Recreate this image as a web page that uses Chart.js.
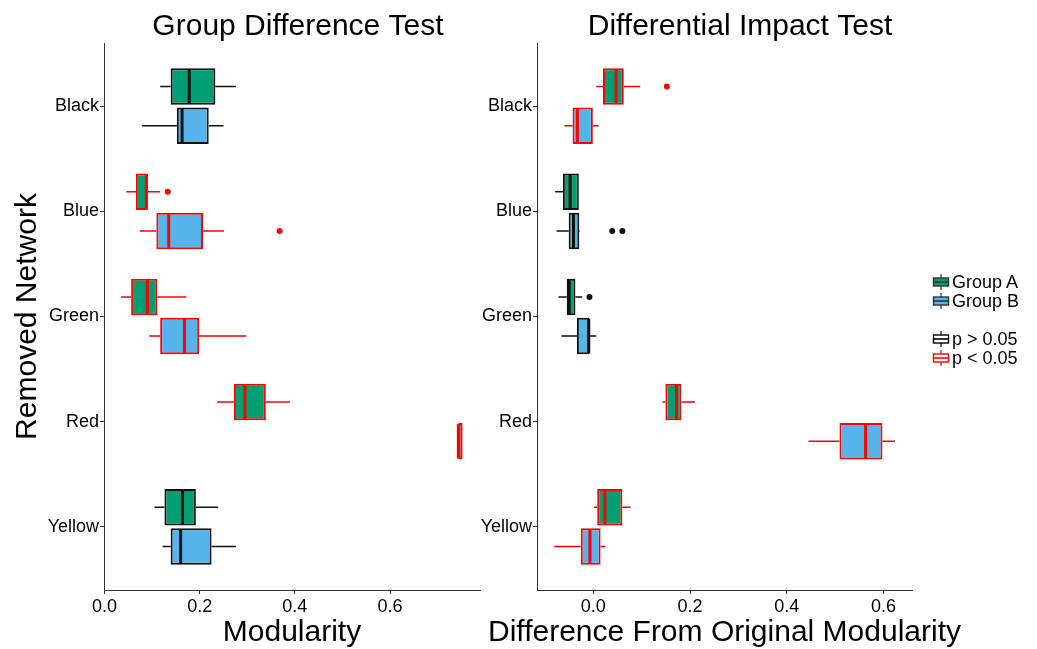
<!DOCTYPE html>
<html><head><meta charset="utf-8">
<script src="https://cdn.jsdelivr.net/npm/chart.js@4.4.1/dist/chart.umd.min.js"></script>
<style>
html,body{margin:0;padding:0;background:#fff;}
#wrap{position:relative;width:1037px;height:649px;overflow:hidden;background:#fff;font-family:"Liberation Sans",Arial,sans-serif;}
canvas{position:absolute;top:0;}
#c1{left:0;}
#c2{left:468px;}
#legend{position:absolute;left:932px;top:0;width:105px;height:649px;}
.row{position:absolute;left:0;height:20px;display:flex;align-items:center;font-size:18px;white-space:nowrap;color:#000;}
.row svg{margin-right:2px;flex:none;}
</style></head><body>
<div id="wrap">
<canvas id="c1" width="596" height="649"></canvas>
<canvas id="c2" width="544" height="649"></canvas>
<div id="legend"></div>
</div>
<script>
// ---------------- data ----------------
const categories = ['Black', 'Blue', 'Green', 'Red', 'Yellow'];
const groupNames = ['Group A', 'Group B'];
const sigNames = ['p > 0.05', 'p < 0.05'];

// Group Difference Test (Modularity)
const gdA_lo  = [0.117, 0.046, 0.035, 0.237, 0.105];
const gdA_q1  = [0.139, 0.066, 0.056, 0.272, 0.126];
const gdA_med = [0.178, 0.088, 0.090, 0.295, 0.164];
const gdA_q3  = [0.233, 0.091, 0.111, 0.339, 0.192];
const gdA_hi  = [0.276, 0.117, 0.172, 0.390, 0.239];
const gdA_out = [[], [0.133], [], [], []];
const gdB_lo  = [0.079, 0.074, 0.094, 0.742, 0.122];
const gdB_q1  = [0.152, 0.109, 0.117, 0.7435, 0.139];
const gdB_med = [0.163, 0.135, 0.168, 0.7435, 0.160];
const gdB_q3  = [0.219, 0.207, 0.199, 0.7525, 0.225];
const gdB_hi  = [0.250, 0.251, 0.298, 0.7525, 0.276];
const gdB_out = [[], [0.368], [], [], []];
const gd_sig  = [false, true, true, true, false];

// Differential Impact Test (Difference From Original Modularity)
const diA_lo  = [0.006, -0.079, -0.072, 0.143, 0.001];
const diA_q1  = [0.020, -0.063, -0.055, 0.149, 0.008];
const diA_med = [0.047, -0.048, -0.050, 0.172, 0.024];
const diA_q3  = [0.063, -0.030, -0.037, 0.182, 0.060];
const diA_hi  = [0.097, -0.030, -0.023, 0.210, 0.077];
const diA_out = [[0.152], [], [-0.008], [], []];
const diB_lo  = [-0.060, -0.076, -0.066, 0.445, -0.081];
const diB_q1  = [-0.043, -0.051, -0.034, 0.509, -0.026];
const diB_med = [-0.033, -0.041, -0.0095, 0.563, -0.007];
const diB_q3  = [-0.001, -0.029, -0.008, 0.598, 0.015];
const diB_hi  = [0.011, -0.028, 0.006, 0.624, 0.025];
const diB_out = [[], [0.039, 0.060], [], [], []];
const di_sig  = [true, false, false, true, true];

const xTickValues = [0, 0.2, 0.4, 0.6];
const xTickLabels = ['0.0', '0.2', '0.4', '0.6'];

// ---------------- styles ----------------
const FONT = '"Liberation Sans", Arial, sans-serif';
const GREEN = '#009E73', BLUE = '#56B4E9', RED = '#FF0000', DARK = '#111111', AXIS = '#333333';

Chart.defaults.font.family = FONT;
Chart.defaults.color = '#000';

function boxDataset(label, color, q1, q3, lo, hi, med, out, sig) {
  return {
    label, xAxisID: 'x', yAxisID: 'y',
    data: q1.map((v, i) => [v, q3[i]]),
    backgroundColor: color,
    borderColor: sig.map(s => s ? RED : DARK),
    borderWidth: 2,
    borderSkipped: false,
    categoryPercentage: 0.746,
    barPercentage: 0.93,
    whiskerLo: lo, whiskerHi: hi, medians: med, outliers: out, sig
  };
}

const boxParts = {
  id: 'boxParts',
  beforeDatasetsDraw(chart) {
    const ctx = chart.ctx, xs = chart.scales.x;
    chart.data.datasets.forEach((ds, di) => {
      const meta = chart.getDatasetMeta(di);
      meta.data.forEach((el, i) => {
        const y = el.y;
        const col = ds.sig[i] ? RED : DARK;
        ctx.save();
        ctx.strokeStyle = col; ctx.lineWidth = 1.5;
        ctx.beginPath();
        ctx.moveTo(xs.getPixelForValue(ds.whiskerLo[i]), y);
        ctx.lineTo(xs.getPixelForValue(ds.data[i][0]), y);
        ctx.moveTo(xs.getPixelForValue(ds.data[i][1]), y);
        ctx.lineTo(xs.getPixelForValue(ds.whiskerHi[i]), y);
        ctx.stroke();
        ctx.restore();
      });
    });
  },
  afterDatasetsDraw(chart) {
    const ctx = chart.ctx, xs = chart.scales.x;
    chart.data.datasets.forEach((ds, di) => {
      const meta = chart.getDatasetMeta(di);
      meta.data.forEach((el, i) => {
        const y = el.y, h = el.height;
        const col = ds.sig[i] ? RED : DARK;
        ctx.save();
        ctx.strokeStyle = col; ctx.lineWidth = 3;
        const mx = xs.getPixelForValue(ds.medians[i]);
        ctx.beginPath();
        ctx.moveTo(mx, y - h / 2 + 1);
        ctx.lineTo(mx, y + h / 2 - 1);
        ctx.stroke();
        ctx.fillStyle = col;
        ds.outliers[i].forEach(v => {
          ctx.beginPath();
          ctx.arc(xs.getPixelForValue(v), y, 3, 0, Math.PI * 2);
          ctx.fill();
        });
        ctx.restore();
      });
    });
  }
};

const xTitle = {
  id: 'xTitle',
  afterDraw(chart, args, opts) {
    const {ctx, chartArea} = chart;
    ctx.save();
    ctx.font = opts.size + 'px ' + FONT;
    ctx.fillStyle = '#000';
    ctx.textAlign = 'center';
    ctx.textBaseline = 'middle';
    ctx.fillText(opts.text, (chartArea.left + chartArea.right) / 2, opts.y);
    ctx.restore();
  }
};

function makeChart(canvasId, cfg) {
  const yScale = {
    type: 'category', labels: categories, offset: true, position: 'left',
    afterBuildTicks: a => { a._startValue = -0.6; a._valueRange = categories.length + 0.2; },
    afterFit: a => { a.width = cfg.yWidth; },
    grid: {display: true, drawOnChartArea: false, offset: false, tickLength: 4, color: AXIS, lineWidth: 1},
    border: {display: true, color: AXIS, width: 1},
    ticks: {font: {size: 18, family: FONT}, color: '#000', padding: 1},
    title: cfg.yTitle ? {display: true, text: cfg.yTitle, font: {size: 30, family: FONT}, color: '#000', padding: {top: 10, bottom: 0}} : {display: false}
  };
  return new Chart(document.getElementById(canvasId), {
    type: 'bar',
    data: {
      labels: categories,
      datasets: [
        boxDataset(groupNames[0], GREEN, cfg.A.q1, cfg.A.q3, cfg.A.lo, cfg.A.hi, cfg.A.med, cfg.A.out, cfg.sig),
        boxDataset(groupNames[1], BLUE, cfg.B.q1, cfg.B.q3, cfg.B.lo, cfg.B.hi, cfg.B.med, cfg.B.out, cfg.sig)
      ]
    },
    options: {
      indexAxis: 'y',
      responsive: false,
      animation: false,
      devicePixelRatio: 1,
      layout: {padding: 0},
      plugins: {
        legend: {display: false},
        tooltip: {enabled: false},
        title: {display: true, text: cfg.title, font: {size: 30, family: FONT, weight: 'normal', lineHeight: 1.1}, color: '#000', padding: {top: 10, bottom: 0}},
        xTitle: {text: cfg.xTitle, size: 30, y: 633}
      },
      scales: {
        x: {
          type: 'linear', position: 'bottom', min: cfg.xMin, max: cfg.xMax,
          afterBuildTicks: a => { a.ticks = xTickValues.map(v => ({value: v})); },
          afterFit: a => { a.height = 59; },
          grid: {display: true, drawOnChartArea: false, tickLength: 4, color: AXIS, lineWidth: 1},
          border: {display: true, color: AXIS, width: 1},
          ticks: {font: {size: 18, family: FONT}, color: '#000', padding: 2, maxRotation: 0,
                  callback: (v, i) => xTickLabels[i]}
        },
        y: yScale,
        pad: {
          type: 'linear', axis: 'y', position: 'right', min: 0, max: 1, display: true,
          grid: {display: false}, border: {display: false}, ticks: {display: false},
          afterFit: a => { a.width = cfg.padRight; }
        }
      }
    },
    plugins: [boxParts, xTitle]
  });
}

makeChart('c1', {
  title: 'Group Difference Test', xTitle: 'Modularity', yTitle: 'Removed Network',
  xMin: -0.001, xMax: 0.789, yWidth: 104, padRight: 116, sig: gd_sig,
  A: {lo: gdA_lo, q1: gdA_q1, med: gdA_med, q3: gdA_q3, hi: gdA_hi, out: gdA_out},
  B: {lo: gdB_lo, q1: gdB_q1, med: gdB_med, q3: gdB_q3, hi: gdB_hi, out: gdB_out}
});
makeChart('c2', {
  title: 'Differential Impact Test', xTitle: 'Difference From Original Modularity', yTitle: null,
  xMin: -0.1165, xMax: 0.659, yWidth: 69, padRight: 100, sig: di_sig,
  A: {lo: diA_lo, q1: diA_q1, med: diA_med, q3: diA_q3, hi: diA_hi, out: diA_out},
  B: {lo: diB_lo, q1: diB_q1, med: diB_med, q3: diB_q3, hi: diB_hi, out: diB_out}
});

// ---------------- legend ----------------
function icon(fill, stroke) {
  return '<svg width="18" height="18" viewBox="0 0 18 18">' +
    '<line x1="9" y1="1" x2="9" y2="17" stroke="' + stroke + '" stroke-width="1.2"/>' +
    '<rect x="1.5" y="5" width="15" height="8" fill="' + fill + '" stroke="' + stroke + '" stroke-width="1.4"/>' +
    '<line x1="1.5" y1="9" x2="16.5" y2="9" stroke="' + stroke + '" stroke-width="1.6"/></svg>';
}
const legendItems = [
  {text: groupNames[0], fill: GREEN, stroke: '#333', top: 272},
  {text: groupNames[1], fill: BLUE, stroke: '#333', top: 291},
  {text: sigNames[0], fill: '#fff', stroke: '#000', top: 329},
  {text: sigNames[1], fill: '#fff', stroke: RED, top: 348}
];
document.getElementById('legend').innerHTML = legendItems.map(it =>
  '<div class="row" style="top:' + it.top + 'px">' + icon(it.fill, it.stroke) + '<span>' + it.text + '</span></div>'
).join('');
</script>
</body></html>
